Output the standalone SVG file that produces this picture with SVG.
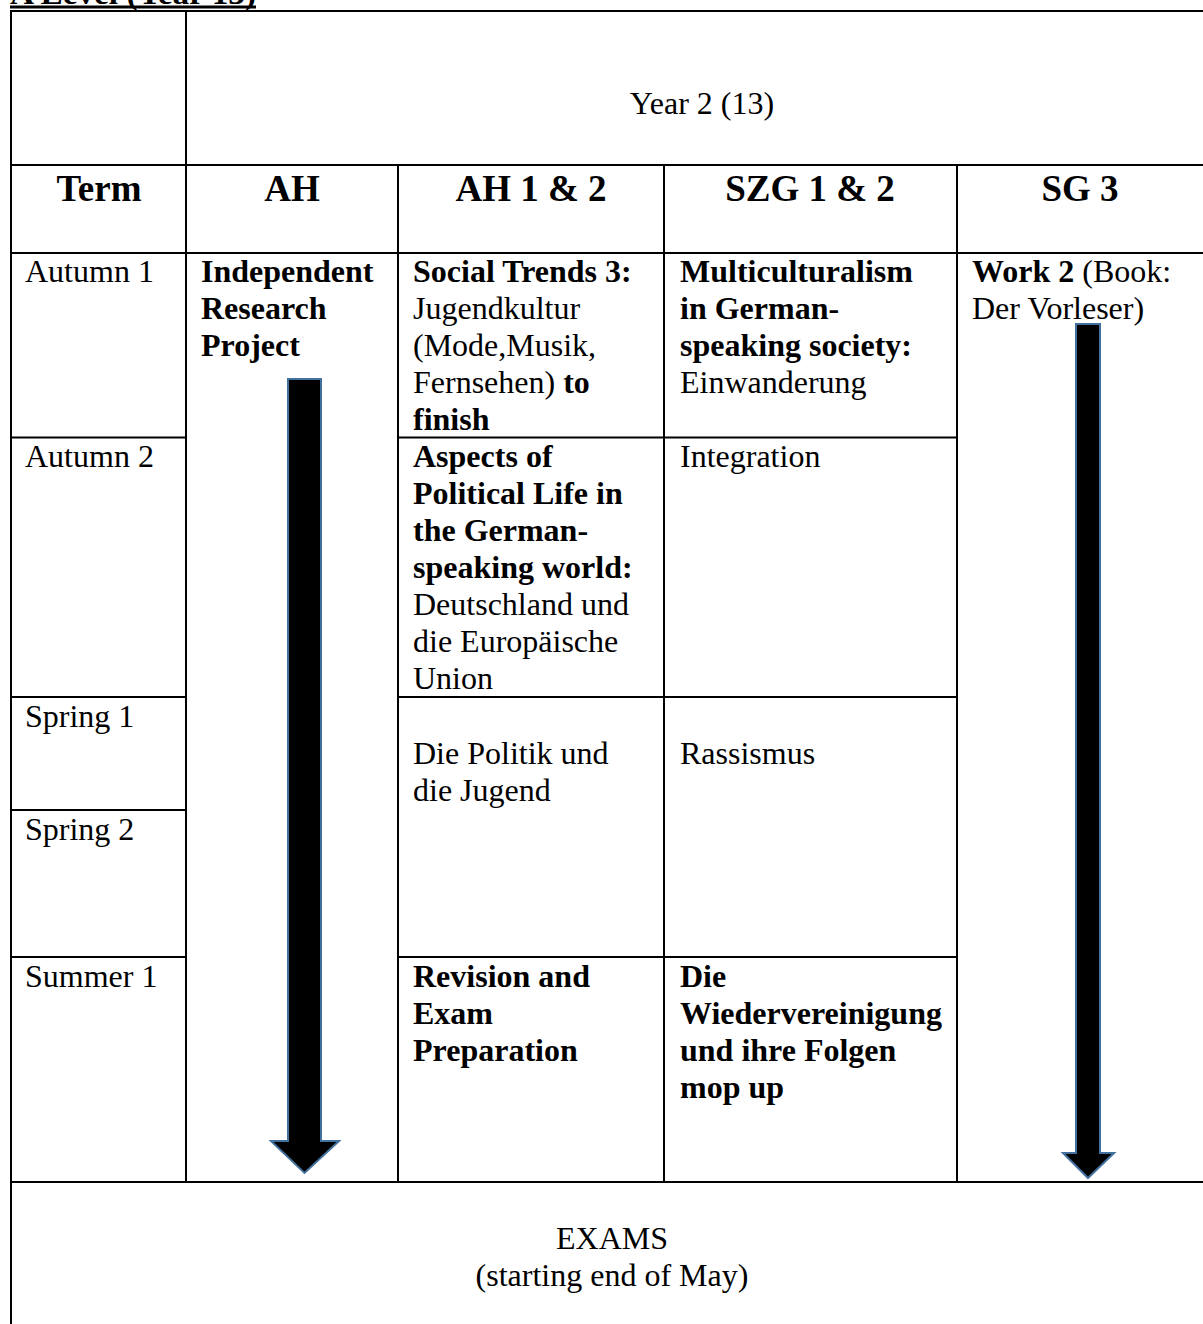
<svg xmlns="http://www.w3.org/2000/svg" width="1203" height="1324" viewBox="0 0 1203 1324">
<defs>
<style>
text { font-family: "Liberation Serif", "Times New Roman", serif; font-size: 32px; fill: #000; }
.b { font-weight: bold; }
.h { font-size: 37px; font-weight: bold; text-anchor: middle; }
.c { text-anchor: middle; }
.grid line { stroke: #000; stroke-width: 2; }
.arrow { fill: #000; stroke: #41719C; stroke-width: 2; stroke-linejoin: miter; }
</style>
</defs>
<rect x="0" y="0" width="1203" height="1324" fill="#fff"/>

<g id="title">
<text class="b" x="10" y="4" textLength="246" lengthAdjust="spacingAndGlyphs">A Level (Year 13)</text>
<rect x="10" y="5.5" width="246" height="3" fill="#000"/>
</g>

<g id="grid" class="grid">
<line x1="10" y1="11" x2="1203" y2="11"/>
<line x1="10" y1="165" x2="1203" y2="165"/>
<line x1="10" y1="253" x2="1203" y2="253"/>
<line x1="10" y1="437.5" x2="187" y2="437.5"/>
<line x1="397" y1="437.5" x2="958" y2="437.5"/>
<line x1="10" y1="697" x2="187" y2="697"/>
<line x1="397" y1="697" x2="958" y2="697"/>
<line x1="10" y1="810" x2="187" y2="810"/>
<line x1="10" y1="957" x2="187" y2="957"/>
<line x1="397" y1="957" x2="958" y2="957"/>
<line x1="10" y1="1182" x2="1203" y2="1182"/>
<line x1="11" y1="10" x2="11" y2="1324"/>
<line x1="186" y1="10" x2="186" y2="1183"/>
<line x1="398" y1="164" x2="398" y2="1183"/>
<line x1="664" y1="164" x2="664" y2="1183"/>
<line x1="957" y1="164" x2="957" y2="1183"/>
</g>

<g id="year-header">
<text class="c" x="702" y="114" font-size="37">Year 2 (13)</text>
</g>

<g id="headers">
<text class="h" x="99" y="201">Term</text>
<text class="h" x="292" y="201">AH</text>
<text class="h" x="531" y="201">AH 1 &amp; 2</text>
<text class="h" x="810" y="201">SZG 1 &amp; 2</text>
<text class="h" x="1080" y="201">SG 3</text>
</g>

<g id="terms">
<text x="25" y="282">Autumn 1</text>
<text x="25" y="467">Autumn 2</text>
<text x="25" y="727">Spring 1</text>
<text x="25" y="840">Spring 2</text>
<text x="25" y="987">Summer 1</text>
</g>

<g id="ah-cell">
<text class="b" x="201" y="282">Independent</text>
<text class="b" x="201" y="319">Research</text>
<text class="b" x="201" y="356">Project</text>
</g>

<g id="ah12-autumn1">
<text class="b" x="413" y="282">Social Trends 3:</text>
<text x="413" y="319">Jugendkultur</text>
<text x="413" y="356">(Mode,Musik,</text>
<text x="413" y="393">Fernsehen) <tspan class="b">to</tspan></text>
<text class="b" x="413" y="430">finish</text>
</g>

<g id="ah12-autumn2">
<text class="b" x="413" y="467">Aspects of</text>
<text class="b" x="413" y="504">Political Life in</text>
<text class="b" x="413" y="541">the German-</text>
<text class="b" x="413" y="578">speaking world:</text>
<text x="413" y="615">Deutschland und</text>
<text x="413" y="652">die Europäische</text>
<text x="413" y="689">Union</text>
</g>

<g id="ah12-spring">
<text x="413" y="764">Die Politik und</text>
<text x="413" y="801">die Jugend</text>
</g>

<g id="ah12-summer">
<text class="b" x="413" y="987">Revision and</text>
<text class="b" x="413" y="1024">Exam</text>
<text class="b" x="413" y="1061">Preparation</text>
</g>

<g id="szg-autumn1">
<text class="b" x="680" y="282">Multiculturalism</text>
<text class="b" x="680" y="319">in German-</text>
<text class="b" x="680" y="356">speaking society:</text>
<text x="680" y="393">Einwanderung</text>
</g>

<g id="szg-autumn2">
<text x="680" y="467">Integration</text>
</g>

<g id="szg-spring">
<text x="680" y="764">Rassismus</text>
</g>

<g id="szg-summer">
<text class="b" x="680" y="987">Die</text>
<text class="b" x="680" y="1024">Wiedervereinigung</text>
<text class="b" x="680" y="1061">und ihre Folgen</text>
<text class="b" x="680" y="1098">mop up</text>
</g>

<g id="sg3-cell">
<text x="972" y="282"><tspan class="b">Work 2</tspan> (Book:</text>
<text x="972" y="319">Der Vorleser)</text>
</g>

<g id="exams">
<text class="c" x="612" y="1249">EXAMS</text>
<text class="c" x="612" y="1286">(starting end of May)</text>
</g>

<g id="connectors">
<polygon id="arrow-ah" class="arrow" points="288,379 321,379 321,1141 339,1141 304.5,1173 271,1141 288,1141"/>
<polygon id="arrow-sg3" class="arrow" points="1076,324 1100,324 1100,1153 1114,1153 1088,1178 1063,1153 1076,1153"/>
</g>
</svg>
